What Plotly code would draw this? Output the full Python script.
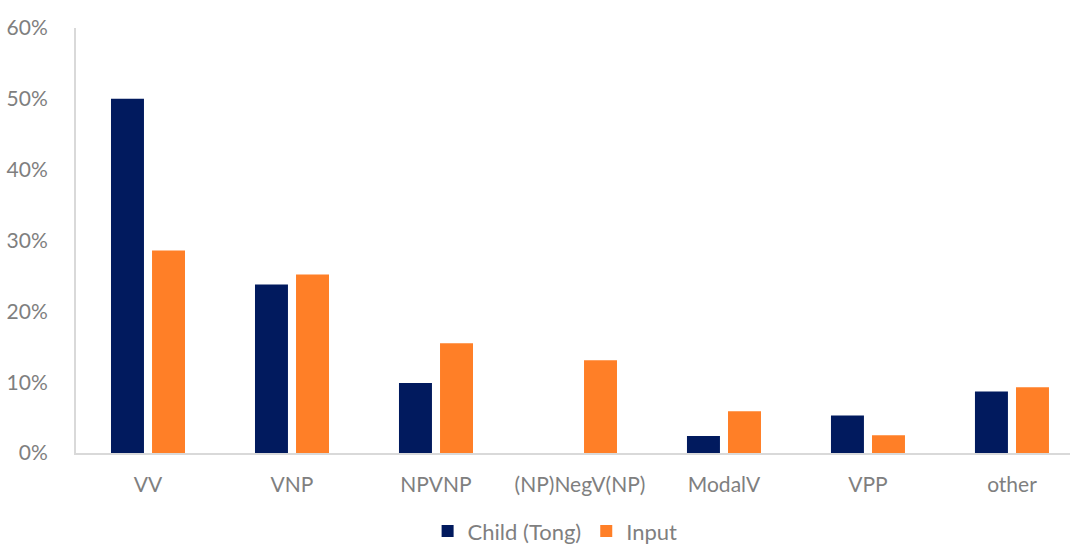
import plotly.graph_objects as go

categories = ["VV", "VNP", "NPVNP", "(NP)NegV(NP)", "ModalV", "VPP", "other"]
child_tong = [0.50, 0.238, 0.099, 0.0, 0.024, 0.053, 0.087]
input_vals = [0.286, 0.252, 0.155, 0.131, 0.059, 0.025, 0.093]

NAVY = "#011A5E"
ORANGE = "#FF7F27"
GREY_TEXT = "#7F7F7F"
AXIS_LINE = "#D9D9D9"

fig = go.Figure()
fig.add_trace(go.Bar(
    x=categories, y=child_tong, name="Child (Tong)",
    marker=dict(color=NAVY, line=dict(width=0)),
    width=0.229, offset=-0.257,
))
fig.add_trace(go.Bar(
    x=categories, y=input_vals, name="Input",
    marker=dict(color=ORANGE, line=dict(width=0)),
    width=0.229, offset=0.028,
))

fig.update_layout(
    width=1070, height=547,
    margin=dict(l=76, r=0, t=28, b=94, autoexpand=False),
    paper_bgcolor="white", plot_bgcolor="white",
    font=dict(family="Lato, 'Open Sans', sans-serif", size=21, color=GREY_TEXT),
    barmode="group",
    showlegend=True,
    legend=dict(
        orientation="h", x=0.482, xanchor="center",
        y=-0.184, yanchor="middle",
        font=dict(size=22, color=GREY_TEXT), itemwidth=30, traceorder="normal",
        tracegroupgap=0,
    ),
    xaxis=dict(
        range=[-0.5, 6.403], showline=True, linecolor=AXIS_LINE, linewidth=2,
        showgrid=False, ticks="", ticklabelstandoff=12, zeroline=False,
        automargin=False,
    ),
    yaxis=dict(
        range=[0, 0.6], dtick=0.1, tickformat=".0%", showline=True,
        linecolor=AXIS_LINE, linewidth=2, showgrid=False, ticks="",
        ticklabelstandoff=22, zeroline=False, automargin=False,
    ),
)

fig.write_html("out.html")
